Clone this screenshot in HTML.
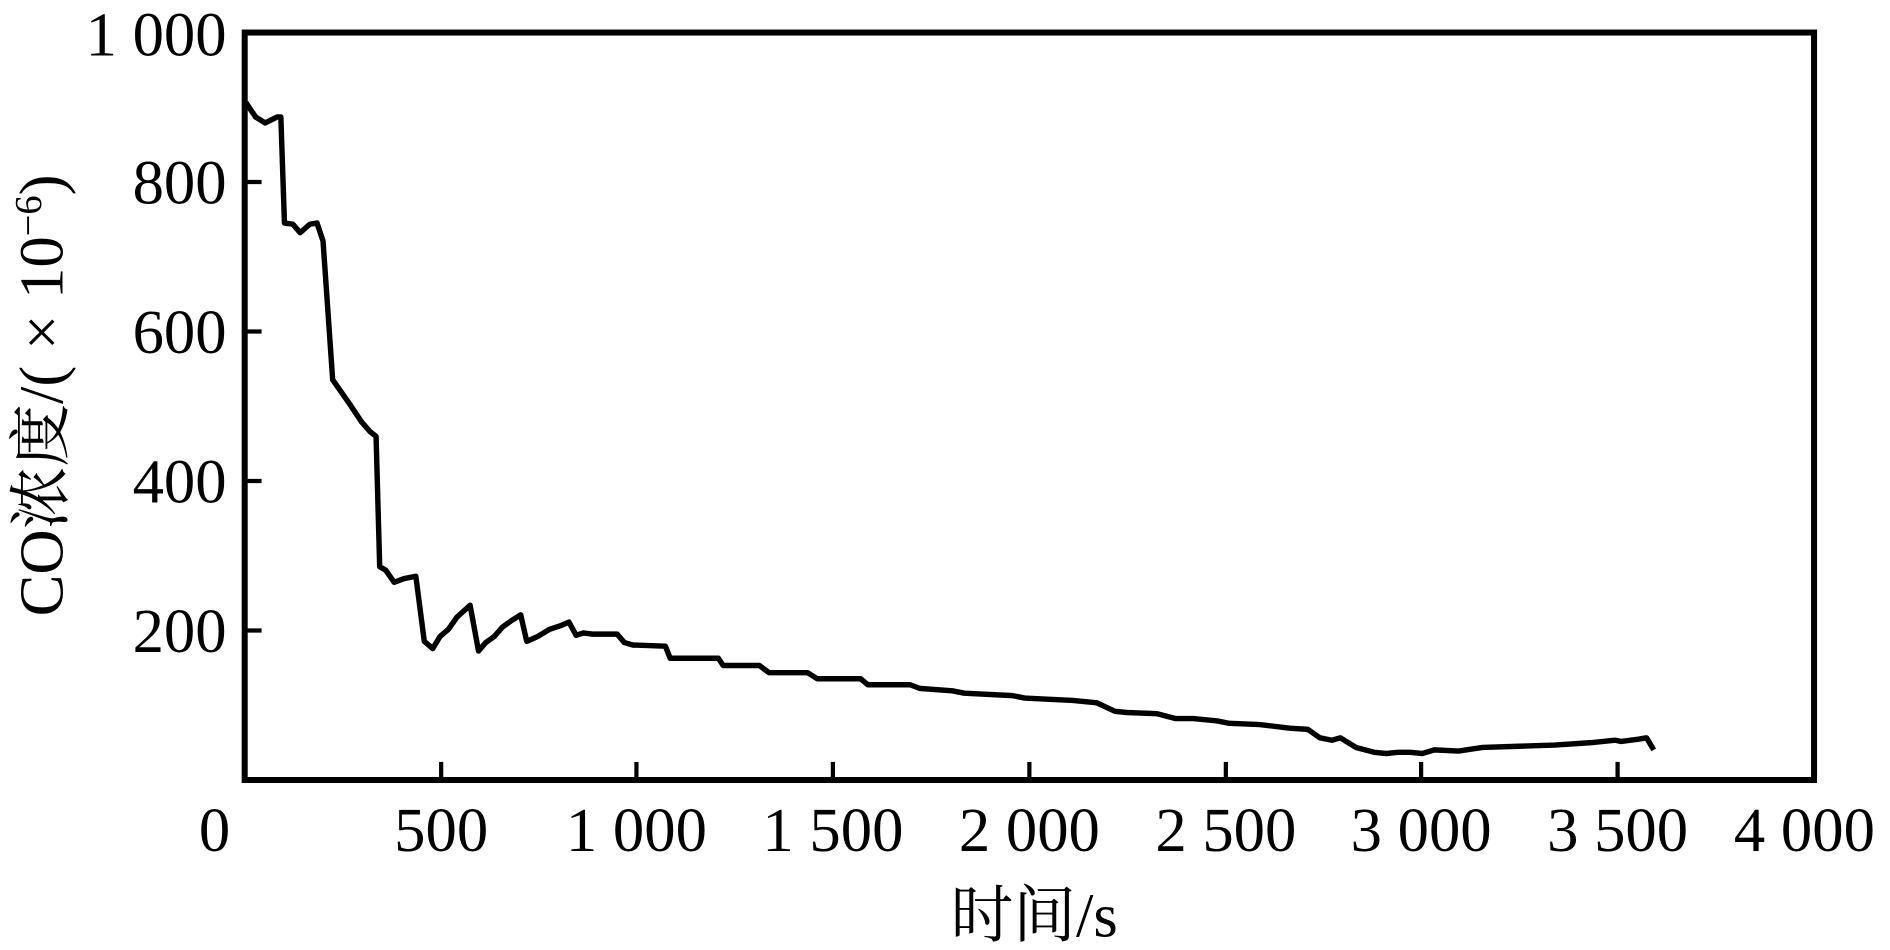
<!DOCTYPE html>
<html><head><meta charset="utf-8"><style>
html,body{margin:0;padding:0;background:#fff;}
svg{display:block;}
text{font-family:"Liberation Serif","Noto Serif CJK SC",serif;fill:#000;}
</style></head><body>
<svg width="1890" height="950" viewBox="0 0 1568 788" preserveAspectRatio="none" xmlns="http://www.w3.org/2000/svg">
<rect width="1568" height="788" fill="#fff"/>
<g stroke="#000" stroke-width="3.5">
<line x1="203" y1="151" x2="217" y2="151"/>
<line x1="203" y1="275" x2="217" y2="275"/>
<line x1="203" y1="399" x2="217" y2="399"/>
<line x1="203" y1="523" x2="217" y2="523"/>
<line x1="366" y1="647" x2="366" y2="632"/>
<line x1="528" y1="647" x2="528" y2="632"/>
<line x1="691" y1="647" x2="691" y2="632"/>
<line x1="854" y1="647" x2="854" y2="632"/>
<line x1="1017" y1="647" x2="1017" y2="632"/>
<line x1="1179" y1="647" x2="1179" y2="632"/>
<line x1="1342" y1="647" x2="1342" y2="632"/>
</g>
<rect x="203" y="27" width="1302" height="620" fill="none" stroke="#000" stroke-width="5"/>
<polyline fill="none" stroke="#000" stroke-width="4.5" stroke-linejoin="round" points="204,85 212,97 220,102 230,97 233,97 236,185 243,186 249,193 257,186 263,185 268,200 276,315 283,325 290,335 300,350 307,358 312,362 315,470 320,473 327,483 335,480 345,478 352,532 359,538 365,528 372,522 379,512 390,502 397,540 403,533 410,528 417,520 424,515 432,510 437,532 446,528 456,522 465,519 472,516 478,527 484,525 492,526 512,526 518,533 525,535 552,536 556,546 568,546 596,546 600,552 630,552 638,558 670,558 678,563 714,563 720,568 755,568 763,571 790,573 800,575 840,577 850,579 890,581 910,583 925,590 935,591 960,592 975,596 990,596 1010,598 1020,600 1045,601 1070,604 1085,605 1095,612 1105,614 1112,612 1125,620 1140,624 1150,625 1160,624 1170,624 1180,625 1190,622 1210,623 1230,620 1260,619 1290,618 1320,616 1340,614 1345,615 1360,613 1366,612 1372,622"/>
<g font-size="52" text-anchor="end">
<text x="188" y="46">1 000</text>
<text x="188" y="169">800</text>
<text x="188" y="293">600</text>
<text x="188" y="417">400</text>
<text x="188" y="541">200</text>
</g>
<g font-size="52" text-anchor="middle">
<text x="178" y="706">0</text>
<text x="366" y="706">500</text>
<text x="528" y="706">1 000</text>
<text x="691" y="706">1 500</text>
<text x="854" y="706">2 000</text>
<text x="1017" y="706">2 500</text>
<text x="1179" y="706">3 000</text>
<text x="1342" y="706">3 500</text>
<text x="1497" y="706">4 000</text>
<text x="858" y="777">时间/s</text>
</g>
<text font-size="52" text-anchor="middle" transform="translate(52,328) rotate(-90)">CO浓度/( × 10<tspan font-size="32" dy="-18">−6</tspan><tspan dy="18">)</tspan></text>
</svg>
</body></html>
